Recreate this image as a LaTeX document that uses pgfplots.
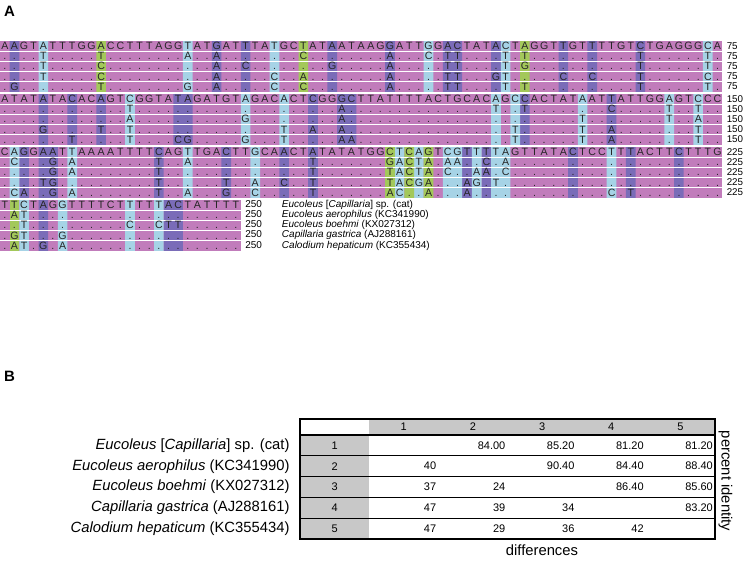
\documentclass[border=0pt]{standalone}
\usepackage{pgfplots}
\pgfplotsset{compat=1.18}
\usepackage{fontspec}
\setmainfont{Liberation Sans}
\definecolor{cP}{RGB}{193,124,187}
\definecolor{cD}{RGB}{122,108,184}
\definecolor{cL}{RGB}{166,211,230}
\definecolor{cG}{RGB}{163,200,90}
\definecolor{cT}{RGB}{200,200,200}
\newlength\cellw \setlength\cellw{9.63pt}
\makeatletter
\newcommand\spreadseq[1]{\edef\spread@tmp{#1}\expandafter\spread@aux\spread@tmp\relax}
\def\spread@aux#1{\ifx#1\relax\else\spread@one#1\expandafter\spread@aux\fi}
\def\spread@one#1{\ifx#1|\else\makebox[\cellw][c]{#1}\fi}
\makeatother
\pgfplotsset{
  blk/.style={
    x=9.63pt, y=10.1pt, y dir=reverse,
    xmin=0.5, ymin=0.5, ymax=5.5, enlargelimits=false,
    axis on top, axis line style={draw=none},
    major tick length=0pt, minor tick length=0pt,
    xtick=\empty, ytick={1,2,3,4,5},
    minor ytick={1.5,2.5,3.5,4.5},
    xminorgrids=true, yminorgrids=true,
    minor grid style={white, line width=0.9pt},
    yticklabel pos=right,
    yticklabel style={font=\fontsize{9.8}{11}\selectfont, anchor=west, xshift=1pt},
    anchor=north west,
  },
  seqrow/.style={only marks, mark=none, point meta=explicit symbolic,
    nodes near coords={\vphantom{A}\spreadseq{\pgfplotspointmeta}},
    every node near coord/.append style={anchor=west, inner sep=0pt, outer sep=0pt,
      font=\fontsize{10.6}{11}\selectfont, text=black!85}},
  colbar/.style={ybar, bar width=1, bar shift=0pt, draw=none, fill=#1},
}
\begin{document}
\begin{tikzpicture}
\useasboundingbox (0,0) rectangle (749pt,-560pt);
\node[anchor=north west, inner sep=0pt, font=\fontsize{15}{15}\selectfont\bfseries] at (4pt,-6pt) {A};
\node[anchor=north west, inner sep=0pt, font=\fontsize{15}{15}\selectfont\bfseries] at (4pt,-371pt) {B};
% ---------------- block 1 (1-75)
\begin{axis}[blk, at={(0pt,-41pt)}, xmax=75.5, minor xtick={1.5,2.5,...,74.5},
  yticklabels={75,75,75,75,75}]
\addplot[fill=cP, draw=none] coordinates {(0.5,0.5) (75.5,0.5) (75.5,5.5) (0.5,5.5)} -- cycle;
\addplot[colbar=cD] coordinates {(2,6) (23,6) (26,6) (35,6) (41,6) (47,6) (48,6) (52,6) (59,6) (62,6) (67,6)};
\addplot[colbar=cL] coordinates {(5,6) (20,6) (29,6) (45,6) (53,6) (74,6)};
\addplot[colbar=cG] coordinates {(11,6) (32,6) (55,6)};
\addplot[seqrow] table[meta=s] {
x y s
0.5 1 AAGTATTTGG|ACCTTTAGGT|ATGATTTATG|CTATAATAAG|GATTGGACTA|TACTAGGTTG|TTTTGTCTGA|GGGCA
0.5 2 ....T.....|T........A|..A.......|.C........|A...C.TT..|..T.T.....|......T...|...T.
0.5 3 ....T.....|C.........|..A..C....|....G.....|A.....TT..|..T.G.....|......T...|...T.
0.5 4 ....T.....|C.........|..A.....C.|.A........|A.....TT..|.GT.....C.|.C....T...|...C.
0.5 5 .G........|T........G|..A.....C.|.C........|A.....TT..|..T.T.....|......T...|...T.
};
\end{axis}
% ---------------- block 2 (76-150)
\begin{axis}[blk, at={(0pt,-94pt)}, xmax=75.5, minor xtick={1.5,2.5,...,74.5},
  yticklabels={150,150,150,150,150}]
\addplot[fill=cP, draw=none] coordinates {(0.5,0.5) (75.5,0.5) (75.5,5.5) (0.5,5.5)} -- cycle;
\addplot[colbar=cD] coordinates {(5,6) (8,6) (11,6) (19,6) (20,6) (33,6) (36,6) (37,6) (55,6) (64,6)};
\addplot[colbar=cL] coordinates {(14,6) (26,6) (30,6) (52,6) (54,6) (61,6) (70,6) (73,6)};
\addplot[seqrow] table[meta=s] {
x y s
0.5 1 ATATATACAC|AGTCGGTATA|GATGTAGACA|CTCGGGCTTA|TTTTACTGCA|CAGCCACTAT|AATTATTGGA|GTCCC
0.5 2 ..........|...T......|..........|.....A....|..........|.T..T.....|...C.....T|..T..
0.5 3 ..........|...A......|.....G....|.....A....|..........|..........|T........T|..A..
0.5 4 ....G.....|T..T......|.........T|..A..A....|..........|...T......|T..A......|..T..
0.5 5 .......T..|...T....CG|.....G...T|.....AA...|..........|...T......|T..A......|..T..
};
\end{axis}
% ---------------- block 3 (151-225)
\begin{axis}[blk, at={(0pt,-147pt)}, xmax=75.5, minor xtick={1.5,2.5,...,74.5},
  yticklabels={225,225,225,225,225}]
\addplot[fill=cP, draw=none] coordinates {(0.5,0.5) (75.5,0.5) (75.5,5.5) (0.5,5.5)} -- cycle;
\addplot[colbar=cD] coordinates {(3,6) (5,6) (6,6) (17,6) (24,6) (30,6) (33,6) (49,6) (51,6) (60,6) (66,6) (71,6)};
\addplot[colbar=cL] coordinates {(2,6) (8,6) (20,6) (27,6) (42,6) (44,6) (47,6) (48,6) (50,6) (52,6) (53,6) (64,6)};
\addplot[colbar=cG] coordinates {(41,6) (43,6) (45,6)};
\addplot[seqrow] table[meta=s] {
x y s
0.5 1 CAGGAATTAA|AATTTTCAGT|TGACTTGCAA|CTATATATGG|CTCAGTCGTT|TTAGTTATAC|TCCTTTACTT|CTTTG
0.5 2 .C...G.A..|......T..A|..........|..T.......|GACTA.AA..|C.A.......|..........|.....
0.5 3 .....G.A..|......T...|..........|..T.......|TACTA.C..A|A.C.......|..........|.....
0.5 4 ....TG....|......T...|...T..A..C|..T.......|TACGA...AG|.T........|..........|.....
0.5 5 .CA..G.A..|......T..A|...G..C...|..T.......|AC..A...A.|..........|...C.T....|.....
};
\end{axis}
% ---------------- block 4 (226-250)
\begin{axis}[blk, at={(0pt,-200pt)}, xmax=25.5, minor xtick={1.5,2.5,...,24.5},
  yticklabel style={anchor=west, font=\fontsize{10}{11}\selectfont},
  yticklabels={{250\hspace{20pt}\textit{Eucoleus} [\textit{Capillaria}] sp. (cat)},
    {250\hspace{20pt}\textit{Eucoleus aerophilus} (KC341990)},
    {250\hspace{20pt}\textit{Eucoleus boehmi} (KX027312)},
    {250\hspace{20pt}\textit{Capillaria gastrica} (AJ288161)},
    {250\hspace{20pt}\textit{Calodium hepaticum} (KC355434)}}]
\addplot[fill=cP, draw=none] coordinates {(0.5,0.5) (25.5,0.5) (25.5,5.5) (0.5,5.5)} -- cycle;
\addplot[colbar=cD] coordinates {(5,6) (18,6) (19,6)};
\addplot[colbar=cL] coordinates {(3,6) (7,6) (14,6) (17,6)};
\addplot[colbar=cG] coordinates {(2,6)};
\addplot[seqrow] table[meta=s] {
x y s
0.5 1 TTCTAGGTTT|TCTTTTTACT|ATTTT
0.5 2 .AT.......|..........|.....
0.5 3 ..T.......|...C..CTT.|.....
0.5 4 .GT...G...|..........|.....
0.5 5 .AT.G.A...|..........|.....
};
\end{axis}
% ---------------- table
\begin{axis}[at={(300pt,-419pt)}, anchor=north west,
  x=69.17pt, y=1pt, y dir=reverse,
  xmin=0, xmax=6, ymin=0, ymax=120, enlargelimits=false,
  axis on top, axis line style={black, line width=1.3pt},
  major tick length=0pt, minor tick length=0pt,
  xtick=\empty, minor xtick={1,2,3,4,5},
  ytick={26.4,47.2,68,88.8,109.6},
  minor ytick={16,36.8,57.6,78.4,99.2},
  xminorgrids=true, yminorgrids=true,
  minor grid style={black, line width=1.1pt},
  yticklabel style={font=\fontsize{14.8}{17}\selectfont, anchor=east, xshift=-7pt},
  yticklabels={{\textit{Eucoleus} [\textit{Capillaria}] sp. (cat)},
    {\textit{Eucoleus aerophilus} (KC341990)},
    {\textit{Eucoleus boehmi} (KX027312)},
    {\textit{Capillaria gastrica} (AJ288161)},
    {\textit{Calodium hepaticum} (KC355434)}},
  xlabel={differences},
  xlabel style={font=\fontsize{14.8}{17}\selectfont, at={(axis description cs:0.583,0)}, anchor=north, yshift=-2pt},
  ylabel={percent identity},
  ylabel style={font=\fontsize{14.8}{17}\selectfont, at={(axis description cs:1,0.5)}, anchor=south, rotate=180, xshift=2pt},
]
\addplot[fill=cT, draw=none] coordinates {(1,0) (6,0) (6,16) (1,16)} -- cycle;
\addplot[fill=cT, draw=none] coordinates {(0,16) (1,16) (1,120) (0,120)} -- cycle;
\addplot[only marks, mark=none, point meta=explicit symbolic, nodes near coords,
  every node near coord/.append style={anchor=center, inner sep=0pt, font=\fontsize{11}{12}\selectfont}]
table[meta=t] {
x y t
1.5 8 1
2.5 8 2
3.5 8 3
4.5 8 4
5.5 8 5
0.5 26.4 1
0.5 47.2 2
0.5 68 3
0.5 88.8 4
0.5 109.6 5
};
\addplot[only marks, mark=none, point meta=explicit symbolic, nodes near coords,
  every node near coord/.append style={anchor=east, inner sep=0pt, xshift=-2pt, font=\fontsize{11}{12}\selectfont}]
table[meta=t] {
x y t
3 26.4 84.00
4 26.4 85.20
5 26.4 81.20
6 26.4 81.20
2 47.2 40
4 47.2 90.40
5 47.2 84.40
6 47.2 88.40
2 68 37
3 68 24
5 68 86.40
6 68 85.60
2 88.8 47
3 88.8 39
4 88.8 34
6 88.8 83.20
2 109.6 47
3 109.6 29
4 109.6 36
5 109.6 42
};
\end{axis}
\end{tikzpicture}
\end{document}
